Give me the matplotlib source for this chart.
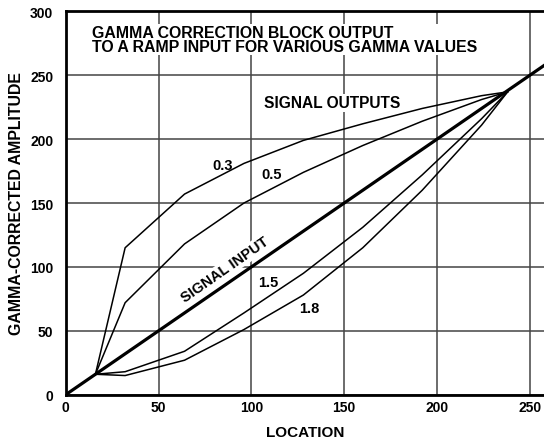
import numpy as np
import matplotlib
matplotlib.use('Agg')
import matplotlib.pyplot as plt

plt.rcParams['font.family'] = ['Liberation Sans', 'DejaVu Sans']
plt.rcParams['font.weight'] = 'bold'

# ramp input, straight through
input_x = [0, 260]
input_y = [0, 260]

# gamma-corrected outputs, breakpoints along the ramp
loc = [16, 32, 64, 96, 128, 160, 192, 224, 238]
out_03 = [16, 115, 157, 181, 199, 212, 224, 234, 237]
out_05 = [16, 72, 118, 150, 174, 195, 214, 231, 237]
out_15 = [16, 18, 34, 64, 95, 131, 172, 216, 237]
out_18 = [16, 15, 27, 51, 78, 115, 160, 211, 237]

fig = plt.figure(figsize=(5.44, 4.39), dpi=100)
ax = fig.add_axes([0.1208, 0.0986, 0.8792, 0.8733])

ax.plot(input_x, input_y, color='black', lw=2.3, solid_capstyle='butt', zorder=3)
for y in (out_03, out_05, out_15, out_18):
    ax.plot(loc, y, color='black', lw=1.1, zorder=3)

ax.set_xlim(0, 257.6)
ax.set_ylim(0, 300)
ax.set_xticks([0, 50, 100, 150, 200, 250])
ax.set_yticks([0, 50, 100, 150, 200, 250, 300])
ax.tick_params(length=0, labelsize=10, pad=4)
ax.tick_params(axis='y', pad=9)
ax.grid(True, color='#444444', lw=1.1)
ax.set_axisbelow(True)
for s in ('left', 'bottom', 'top'):
    ax.spines[s].set_linewidth(2)
ax.spines['right'].set_visible(False)

ax.set_xlabel('LOCATION', fontsize=11, fontweight='bold', va='center')
ax.xaxis.set_label_coords(0.501, -0.097)
ax.set_ylabel('GAMMA-CORRECTED AMPLITUDE', fontsize=11.4, fontweight='bold', va='center')
ax.yaxis.set_label_coords(-0.102, 0.5)

box = dict(facecolor='white', edgecolor='none', pad=1)
ax.text(14, 289, 'GAMMA CORRECTION BLOCK OUTPUT\nTO A RAMP INPUT FOR VARIOUS GAMMA VALUES',
        fontsize=11.4, fontweight='bold', va='top', ha='left', linespacing=0.85, bbox=box, zorder=2)
ax.text(143.7, 228.5, 'SIGNAL OUTPUTS', fontsize=11.2, fontweight='bold',
        ha='center', va='center', bbox=box, zorder=2)
ax.text(84.7, 179.5, '0.3', fontsize=10.5, fontweight='bold', ha='center', va='center', bbox=box, zorder=2)
ax.text(111, 173, '0.5', fontsize=10.5, fontweight='bold', ha='center', va='center', bbox=box, zorder=2)
ax.text(109, 88, '1.5', fontsize=10.5, fontweight='bold', ha='center', va='center', bbox=box, zorder=2)
ax.text(131, 67.5, '1.8', fontsize=10.5, fontweight='bold', ha='center', va='center', bbox=box, zorder=2)
ax.text(85.8, 98, 'SIGNAL INPUT', fontsize=10.5, fontweight='bold', ha='center', va='center',
        rotation=35, rotation_mode='anchor', bbox=box, zorder=2)

fig.savefig('out.png', dpi=100)
